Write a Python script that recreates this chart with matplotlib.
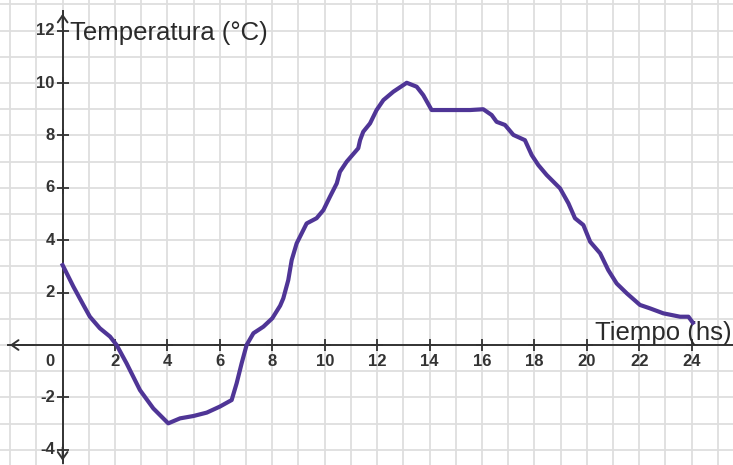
import matplotlib.pyplot as plt

# temperature over the day
hours = [0, 0.41, 0.79, 1.04, 1.42, 1.81, 2.06, 2.44, 2.95, 3.46, 4.03, 4.48, 4.99,
         5.5, 6.0, 6.45, 6.64, 6.83, 7.02, 7.28, 7.66, 8.0, 8.3, 8.42, 8.61, 8.74,
         8.93, 9.31, 9.69, 9.95, 10.2, 10.46, 10.58, 10.84, 11.28, 11.35, 11.47,
         11.73, 11.98, 12.24, 12.62, 13.13, 13.51, 13.76, 14.08, 15.55, 16.05,
         16.37, 16.56, 16.88, 17.2, 17.64, 17.9, 18.15, 18.47, 18.98, 19.3, 19.55,
         19.87, 20.13, 20.51, 20.82, 21.14, 21.53, 22.03, 22.41, 22.92, 23.56,
         23.88, 24.05]
temps = [3.05, 2.23, 1.53, 1.08, 0.64, 0.32, 0.0, -0.7, -1.72, -2.42, -2.99, -2.8,
         -2.71, -2.58, -2.35, -2.1, -1.46, -0.7, 0.0, 0.45, 0.7, 1.02, 1.5, 1.78,
         2.48, 3.24, 3.88, 4.64, 4.84, 5.15, 5.66, 6.17, 6.61, 7.0, 7.51, 7.82,
         8.14, 8.46, 8.97, 9.35, 9.67, 10.01, 9.86, 9.54, 8.97, 8.97, 9.0, 8.78,
         8.52, 8.4, 8.02, 7.82, 7.25, 6.87, 6.49, 5.98, 5.41, 4.84, 4.58, 3.94,
         3.5, 2.86, 2.35, 1.97, 1.53, 1.4, 1.21, 1.08, 1.08, 0.85]

x_ticks = list(range(2, 25, 2))
y_ticks = [-4, -2, 2, 4, 6, 8, 10, 12]

plt.rcParams['font.family'] = ['Liberation Sans', 'DejaVu Sans']

fig = plt.figure(figsize=(7.33, 4.65), dpi=100)
ax = fig.add_axes([0, 0, 1, 1])
ax.set_xlim(-2.39, 25.58)
ax.set_ylim(-4.58, 13.17)
ax.axis('off')

# grid every unit
for gx in range(-2, 26):
    ax.axvline(gx, color='#dedede', lw=1.3, zorder=0)
for gy in range(-4, 14):
    ax.axhline(gy, color='#dedede', lw=1.3, zorder=0)

# axes with open arrow heads
ax.plot([-2.1, 25.6], [0, 0], color='#333333', lw=1.4, zorder=2)
ax.plot([0, 0], [-4.5, 12.75], color='#333333', lw=1.4, zorder=2)
arrow = dict(arrowstyle='->,head_length=0.5,head_width=0.35', color='#333333', lw=1.4)
ax.annotate('', xy=(-2.12, 0), xytext=(-1.0, 0), arrowprops=arrow)
ax.annotate('', xy=(0, 12.75), xytext=(0, 12.0), arrowprops=arrow)
ax.annotate('', xy=(0, -4.52), xytext=(0, -3.8), arrowprops=arrow)

# tick crosses and labels
ax.plot(x_ticks, [0] * len(x_ticks), '+', color='#333333', ms=8, mew=1.3, zorder=3)
ax.plot([0] * len(y_ticks), y_ticks, '+', color='#333333', ms=8, mew=1.3, zorder=3)
for t in x_ticks:
    ax.text(t, -0.62, str(t), ha='center', va='center', fontsize=12,
            fontweight='bold', color='#333333')
ax.text(-0.5, -0.62, '0', ha='center', va='center', fontsize=12,
        fontweight='bold', color='#333333')
for t in y_ticks:
    ax.text(-0.3, t, str(t), ha='right', va='center',
            fontsize=12, fontweight='bold', color='#333333')

ax.text(0.28, 11.9, 'Temperatura (°C)', ha='left', va='center', fontsize=18.5,
        color='#2a2a2a')
ax.text(20.3, 0.45, 'Tiempo (hs)', ha='left', va='center', fontsize=18.5,
        color='#2a2a2a', zorder=4)

ax.plot(hours, temps, color='#4f3596', lw=3.0, solid_joinstyle='round', zorder=5)

fig.savefig('out.png', dpi=100)
